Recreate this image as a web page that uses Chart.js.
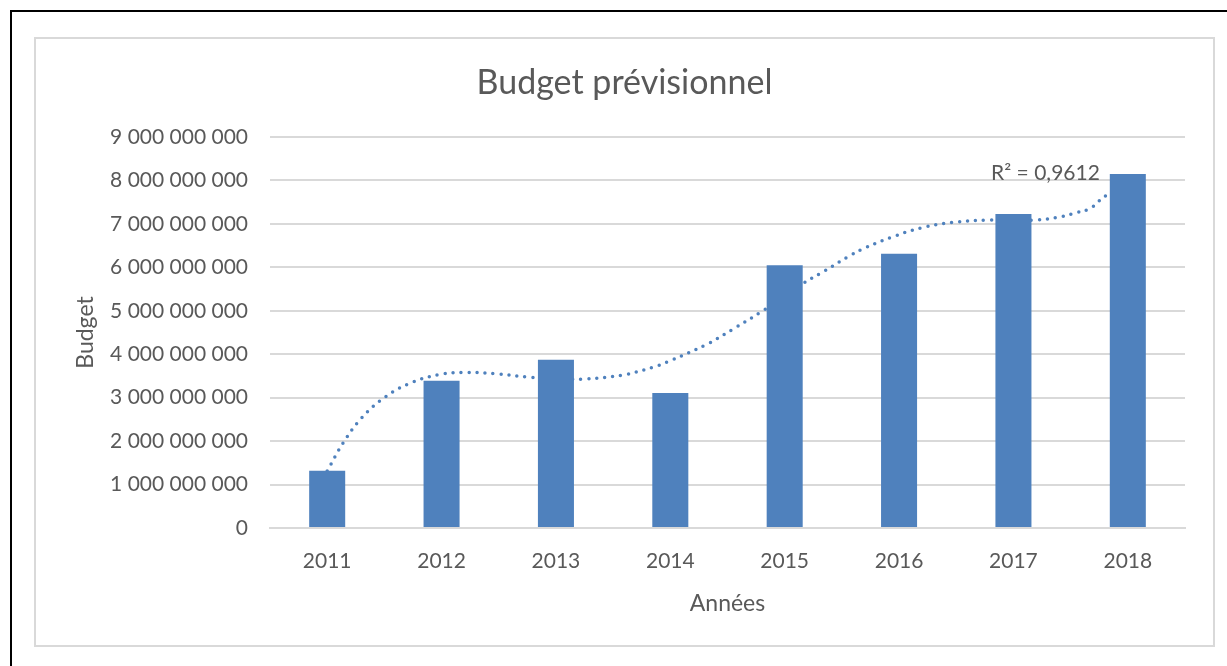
<!DOCTYPE html>
<html>
<head>
<meta charset="utf-8">
<script src="https://cdn.jsdelivr.net/npm/chart.js@4.4.0/dist/chart.umd.min.js"></script>
<style>
    html, body { margin: 0; padding: 0; background: #fff; }
    body { width: 1227px; height: 666px; position: relative; overflow: hidden; }
    #frame { position: absolute; left: 10px; top: 10px; width: 1230px; height: 670px;
             border-top: 2px solid #000; border-left: 2px solid #000; }
    #box { position: absolute; left: 34px; top: 37px; width: 1181px; height: 610px;
           box-sizing: border-box; border: 2px solid #d9d9d9; }
    #chart { position: absolute; left: 0; top: 0; }
</style>
</head>
<body>
<div id="frame"></div>
<div id="box"></div>
<canvas id="chart" width="1227" height="666"></canvas>
<script>
// données
const years = ['2011', '2012', '2013', '2014', '2015', '2016', '2017', '2018'];
const budget = [1320000000, 3390000000, 3870000000, 3110000000, 6050000000, 6310000000, 7230000000, 8150000000];

// courbe de tendance (x = index de l'année)
const trendX = [0, 0.14, 0.30, 0.51, 0.75, 1.00, 1.22, 1.49, 1.77, 2.00, 2.24, 2.58, 2.86, 3.00, 3.32, 3.55, 3.81, 4.00, 4.15, 4.33, 4.56, 4.68, 4.93, 5.20, 5.46, 5.79, 6.20, 6.41, 6.55, 6.67, 6.74, 6.81, 7.00];
const trendY = [1.31, 1.96, 2.53, 3.02, 3.36, 3.54, 3.58, 3.545, 3.47, 3.43, 3.43, 3.52, 3.71, 3.85, 4.23, 4.58, 5.00, 5.34, 5.61, 5.89, 6.25, 6.42, 6.69, 6.91, 7.03, 7.09, 7.09, 7.16, 7.26, 7.35, 7.51, 7.65, 7.95];
const r2Label = 'R² = 0,9612';

const FONT = 'Lato, "Open Sans", sans-serif';
const TEXT = '#595959';
const BLUE = '#4f81bd';

// libellé R² posé sur l'axe
const r2Plugin = {
    id: 'r2',
    afterDatasetsDraw(chart) {
        const ctx = chart.ctx;
        const x = chart.scales.x2.getPixelForValue(6.28);
        const y = chart.scales.y.getPixelForValue(8170000000);
        ctx.save();
        ctx.font = '21px ' + FONT;
        ctx.fillStyle = TEXT;
        ctx.textAlign = 'center';
        ctx.textBaseline = 'middle';
        ctx.fillText(r2Label, x, y);
        ctx.restore();
    }
};

function fmt(v) {
    if (v === 0) return '0';
    return String(Math.round(v)).replace(/\B(?=(\d{3})+(?!\d))/g, ' ');
}

new Chart(document.getElementById('chart'), {
    data: {
        labels: years,
        datasets: [{
            type: 'bar',
            data: budget,
            backgroundColor: BLUE,
            grouped: false,
            categoryPercentage: 1,
            barPercentage: 0.315,
            order: 1
        }, {
            type: 'line',
            xAxisID: 'x2',
            data: trendX.map((x, i) => ({ x: x, y: trendY[i] * 1e9 })),
            borderColor: BLUE,
            borderWidth: 3.5,
            borderDash: [0, 8],
            borderCapStyle: 'round',
            pointRadius: 0,
            tension: 0.4,
            fill: false,
            order: 2
        }]
    },
    options: {
        responsive: false,
        animation: false,
        layout: { padding: { left: 64, right: 42, top: 0, bottom: 49 } },
        plugins: {
            legend: { display: false },
            tooltip: { enabled: false },
            title: {
                display: true,
                text: 'Budget prévisionnel',
                color: TEXT,
                font: { family: FONT, size: 34, weight: 'normal' },
                padding: { top: 63, bottom: 33.2 }
            }
        },
        scales: {
            x: {
                grid: { display: false, drawTicks: false },
                border: { color: '#d9d9d9', width: 2 },
                ticks: { color: TEXT, font: { family: FONT, size: 21 }, padding: 21 },
                title: {
                    display: true, text: 'Années', color: TEXT,
                    font: { family: FONT, size: 23 }, padding: { top: 4, bottom: 0 }
                },
                afterFit(scale) { scale.height = 89; }
            },
            x2: { type: 'linear', min: -0.5, max: 7.5, display: false },
            y: {
                min: 0, max: 9000000000,
                grid: { color: '#d9d9d9', lineWidth: 2, drawTicks: false },
                border: { display: false },
                ticks: {
                    stepSize: 1000000000, color: TEXT, padding: 22,
                    font: { family: FONT, size: 21 },
                    callback: v => fmt(v)
                },
                title: {
                    display: true, text: 'Budget', color: TEXT,
                    font: { family: FONT, size: 23 }, padding: { top: 8 }
                },
                afterFit(scale) { scale.width = 206; }
            }
        }
    },
    plugins: [r2Plugin]
});
</script>
</body>
</html>
